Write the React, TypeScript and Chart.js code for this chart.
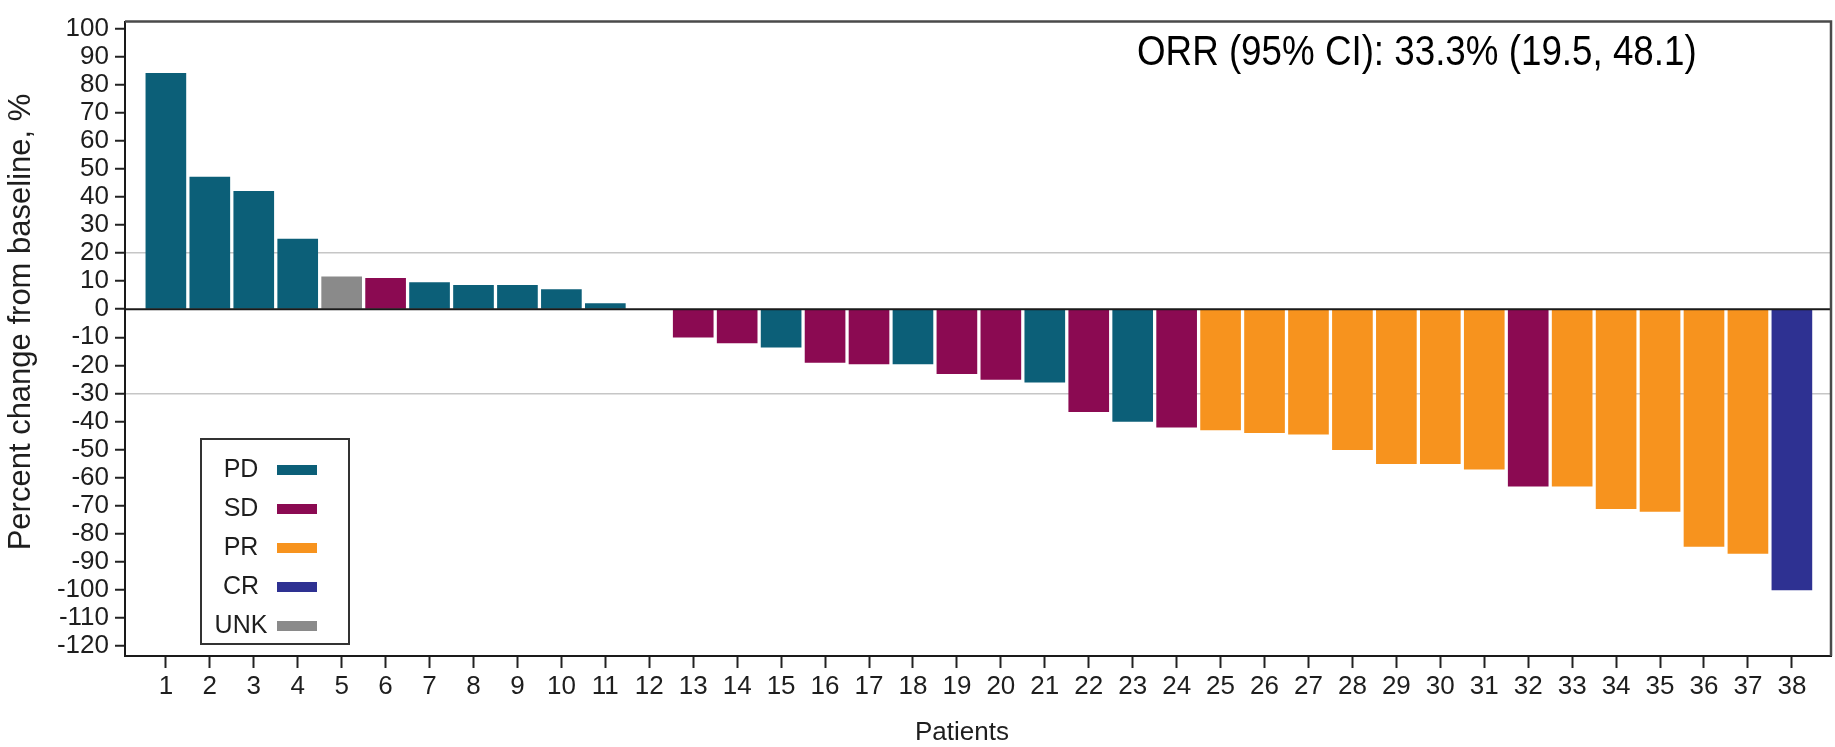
import React, { useEffect, useRef } from 'react';
import { Chart, registerables } from 'chart.js';

Chart.register(...registerables);

const patients = [1, 2, 3, 4, 5, 6, 7, 8, 9, 10, 11, 12, 13, 14, 15, 16, 17, 18, 19, 20, 21, 22, 23, 24, 25, 26, 27, 28, 29, 30, 31, 32, 33, 34, 35, 36, 37, 38];
const percentChange: (number | null)[] = [84, 47, 42, 25, 11.5, 11, 9.5, 8.5, 8.5, 7, 2, null, -10, -12, -13.5, -19, -19.5, -19.5, -23, -25, -26, -36.5, -40, -42, -43, -44, -44.5, -50, -55, -55, -57, -63, -63, -71, -72, -84.5, -87, -100];
const responses = ['PD', 'PD', 'PD', 'PD', 'UNK', 'SD', 'PD', 'PD', 'PD', 'PD', 'PD', '', 'SD', 'SD', 'PD', 'SD', 'SD', 'PD', 'SD', 'SD', 'PD', 'SD', 'PD', 'SD', 'PR', 'PR', 'PR', 'PR', 'PR', 'PR', 'PR', 'SD', 'PR', 'PR', 'PR', 'PR', 'PR', 'CR'];
const legendLabels = ['PD', 'SD', 'PR', 'CR', 'UNK'];
const yTickValues = [100, 90, 80, 70, 60, 50, 40, 30, 20, 10, 0, -10, -20, -30, -40, -50, -60, -70, -80, -90, -100, -110, -120];
const referenceLines = [20, -30];
const orrText = 'ORR (95% CI): 33.3% (19.5, 48.1)';
const xTitle = 'Patients';
const yTitle = 'Percent change from baseline, %';

const responseColors: Record<string, string> = {
  PD: '#0c5f78',
  SD: '#8b0a52',
  PR: '#f7931e',
  CR: '#2e3192',
  UNK: '#8a8a8a',
  '': '#000000',
};

const FONT = '"Liberation Sans", Arial, Helvetica, sans-serif';
const TEXT = '#1e1e1e';

const overlayPlugin = {
  id: 'overlay',
  afterDatasetsDraw(chart: any) {
    const { ctx, chartArea: a, scales } = chart;
    const y0 = scales.y.getPixelForValue(0);
    ctx.save();
    ctx.strokeStyle = '#1a1a1a';
    ctx.lineWidth = 2;
    ctx.beginPath();
    ctx.moveTo(a.left, y0);
    ctx.lineTo(a.right, y0);
    ctx.stroke();
    ctx.strokeStyle = '#4a4a4a';
    ctx.lineWidth = 2.5;
    ctx.beginPath();
    ctx.moveTo(a.left, a.top);
    ctx.lineTo(a.right, a.top);
    ctx.lineTo(a.right, a.bottom);
    ctx.stroke();
    ctx.restore();
  },
  afterDraw(chart: any) {
    const { ctx } = chart;
    ctx.save();
    // ORR annotation
    ctx.fillStyle = '#000000';
    ctx.font = `42px ${FONT}`;
    ctx.textAlign = 'left';
    ctx.textBaseline = 'alphabetic';
    ctx.save();
    ctx.translate(1137, 65);
    ctx.scale(0.875, 1);
    ctx.fillText(orrText, 0, 0);
    ctx.restore();

    // axis titles
    ctx.fillStyle = TEXT;
    ctx.textAlign = 'center';
    ctx.textBaseline = 'middle';
    ctx.font = `26px ${FONT}`;
    ctx.fillText(xTitle, 962, 733);
    ctx.save();
    ctx.translate(21, 322);
    ctx.rotate(-Math.PI / 2);
    ctx.font = `31px ${FONT}`;
    ctx.fillText(yTitle, 0, 0);
    ctx.restore();

    // legend box
    ctx.strokeStyle = '#333333';
    ctx.lineWidth = 2;
    ctx.strokeRect(201, 439, 148, 205);
    const rowY = [470, 509, 548, 587, 626];
    ctx.font = `25px ${FONT}`;
    legendLabels.forEach((lab, i) => {
      ctx.fillStyle = TEXT;
      ctx.textAlign = 'center';
      ctx.fillText(lab, 241, rowY[i]);
      ctx.fillStyle = responseColors[lab];
      ctx.fillRect(277, rowY[i] - 5, 40, 10);
    });
    ctx.restore();
  },
};

export default function App() {
  const canvasRef = useRef<HTMLCanvasElement | null>(null);

  useEffect(() => {
    if (!canvasRef.current) return;
    const points: { x: number; y: number }[] = [];
    const colors: string[] = [];
    percentChange.forEach((v, i) => {
      if (v === null) return;
      points.push({ x: patients[i], y: v });
      colors.push(responseColors[responses[i]]);
    });

    const chart = new Chart(canvasRef.current, {
      type: 'bar',
      data: {
        datasets: [
          {
            data: points as any,
            backgroundColor: colors,
            borderWidth: 0,
            barThickness: 40,
          },
        ],
      },
      options: {
        animation: false,
        responsive: true,
        maintainAspectRatio: false,
        layout: { padding: { top: 15, right: 4, left: 0, bottom: 0 } },
        plugins: {
          legend: { display: false },
          tooltip: { enabled: false },
        },
        scales: {
          x: {
            type: 'linear',
            min: 0.07,
            max: 38.89,
            offset: false,
            afterBuildTicks: (s: any) => {
              s.ticks = patients.map((v) => ({ value: v }));
            },
            afterFit: (s: any) => {
              s.height = 91;
            },
            grid: {
              offset: false,
              drawOnChartArea: false,
              drawTicks: true,
              tickLength: 12,
              tickColor: '#222222',
              tickWidth: 2,
            },
            border: { display: true, color: '#1a1a1a', width: 2 },
            ticks: {
              autoSkip: false,
              maxRotation: 0,
              padding: 3,
              color: TEXT,
              font: { family: FONT, size: 26 },
              callback: (v: any) => String(v),
            },
          },
          y: {
            min: -123.5,
            max: 102.4,
            afterBuildTicks: (s: any) => {
              s.ticks = yTickValues.map((v) => ({ value: v }));
            },
            afterFit: (s: any) => {
              s.width = 125;
            },
            grid: {
              drawOnChartArea: true,
              color: (c: any) => (referenceLines.includes(c.tick?.value) ? '#c6c6c6' : 'rgba(0,0,0,0)'),
              lineWidth: 1.5,
              tickLength: 10,
              tickColor: '#222222',
              tickWidth: 2,
            },
            border: { display: true, color: '#1a1a1a', width: 2 },
            ticks: {
              autoSkip: false,
              padding: 6,
              color: TEXT,
              font: { family: FONT, size: 26 },
              callback: (v: any) => String(v),
            },
          },
        },
      },
      plugins: [overlayPlugin],
    });

    return () => chart.destroy();
  }, []);

  return (
    <div style={{ position: 'fixed', left: 0, top: 0, width: 1835, height: 747, background: '#ffffff' }}>
      <canvas ref={canvasRef} />
    </div>
  );
}
